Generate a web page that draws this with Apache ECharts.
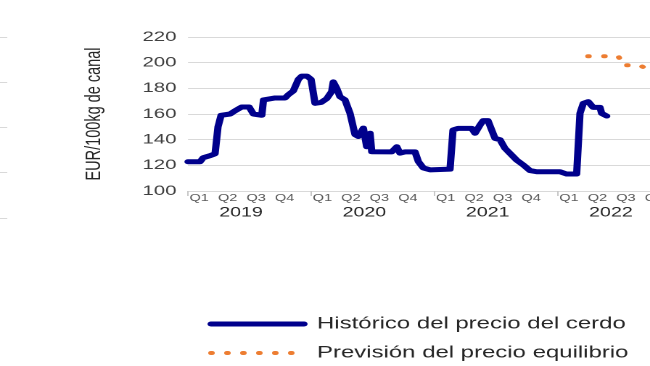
<!DOCTYPE html>
<html><head><meta charset="utf-8">
<script src="https://cdn.jsdelivr.net/npm/echarts@6/dist/echarts.min.js"></script>
<style>
html,body{margin:0;padding:0;background:#fff;overflow:hidden;width:650px;height:366px}
#wrap{position:absolute;left:0;top:0;width:448px;height:366px;transform:scaleX(1.45089);transform-origin:0 0}
#chart{width:448px;height:366px}
</style></head>
<body><div id="wrap"><div id="chart"></div></div>
<script>
// ---- data ----
const years = [2019, 2020, 2021, 2022];
const quarterLabels = ['Q1', 'Q2', 'Q3', 'Q4'];
const yAxisTitle = 'EUR/100kg de canal';
const seriesNames = ['Histórico del precio del cerdo', 'Previsión del precio equilibrio'];

// historical pig price (time in decimal years, value EUR/100kg)
const histT = [2019.000, 2019.097, 2019.124, 2019.178, 2019.219, 2019.243, 2019.268, 2019.341, 2019.381, 2019.436,
  2019.495, 2019.530, 2019.598, 2019.612, 2019.706, 2019.787, 2019.813, 2019.854, 2019.895, 2019.922,
  2019.965, 2019.998, 2020.030, 2020.079, 2020.125, 2020.165, 2020.178, 2020.206, 2020.232, 2020.273,
  2020.314, 2020.354, 2020.381, 2020.422, 2020.436, 2020.449, 2020.476, 2020.490, 2020.652, 2020.693,
  2020.719, 2020.760, 2020.841, 2020.868, 2020.908, 2020.963, 2021.125, 2021.149, 2021.190, 2021.301,
  2021.328, 2021.368, 2021.393, 2021.433, 2021.463, 2021.490, 2021.530, 2021.571, 2021.625, 2021.666,
  2021.719, 2021.774, 2021.828, 2022.017, 2022.071, 2022.152, 2022.179, 2022.206, 2022.246, 2022.285,
  2022.341, 2022.355, 2022.396];
const histV = [122.8, 122.8, 126, 127.5, 129, 150, 159, 160, 162.5, 165.5,
  165.5, 160, 159, 171, 172.5, 172.5, 175, 178, 187, 189.5,
  189.5, 187, 168.3, 169, 172, 177.5, 185, 180, 173.5, 171,
  160.5, 144, 142.5, 149, 150, 134.5, 145, 130.6, 130.5, 134.5,
  129.5, 130.5, 130.5, 123, 118, 116.5, 117, 147.5, 148.8, 148.8,
  145, 151.4, 154.8, 154.8, 147.5, 141, 140, 133.2, 128, 124,
  120.3, 115.9, 115, 115, 113.2, 113.2, 160.5, 168.3, 169.6, 165.2,
  165.2, 160.5, 158.4];

// equilibrium price forecast
const fcT = [2022.245, 2022.49, 2022.53, 2022.665, 2022.72, 2022.85];
const fcV = [205, 205, 198, 198, 195, 193];

// ---- label positions on the time scale ----
const qPos = [];
years.forEach(y => quarterLabels.forEach((q, i) => qPos.push(y + 0.09 + i * 0.231)));
const yearPos = years.map(y => y + 0.43);

const FONT = 'Liberation Sans, Arial, sans-serif';
const gridCfg = { left: 129.6, width: 339.9, top: 37, height: 154, outerBoundsMode: 'none', containLabel: false };

const chart = echarts.init(document.getElementById('chart'), null, { devicePixelRatio: 2 });
chart.setOption({
  animation: false,
  backgroundColor: '#fff',
  grid: [Object.assign({}, gridCfg), Object.assign({}, gridCfg)],
  xAxis: [{
    gridIndex: 0, type: 'value', min: 2019, max: 2023,
    axisLine: { show: false }, splitLine: { show: false },
    axisTick: { show: true, customValues: years, length: 5, lineStyle: { color: '#c8c8c8' } },
    axisLabel: {
      customValues: qPos, margin: 2, fontSize: 10, color: '#595959',
      fontFamily: 'Liberation Sans Narrow, Liberation Sans, sans-serif',
      formatter: v => {
        const f = v - Math.floor(v + 1e-9);
        return quarterLabels[Math.max(0, Math.min(3, Math.round((f - 0.09) / 0.231)))];
      }
    }
  }, {
    gridIndex: 1, type: 'value', min: 2019, max: 2023,
    axisLine: { show: false }, axisTick: { show: false }, splitLine: { show: false },
    axisLabel: {
      customValues: yearPos, margin: 15, fontSize: 13.5, color: '#262626', fontFamily: FONT,
      formatter: v => String(Math.floor(v))
    }
  }],
  yAxis: [{
    gridIndex: 0, type: 'value', min: 100, max: 220, interval: 20,
    axisLine: { show: false }, axisTick: { show: false },
    splitLine: { lineStyle: { color: '#d9d9d9', width: 1 } },
    axisLabel: { fontSize: 14, color: '#404040', margin: 8, fontFamily: FONT },
    name: yAxisTitle, nameLocation: 'middle', nameRotate: 90, nameGap: 57,
    nameTextStyle: { fontSize: 14.5, color: '#262626', fontFamily: FONT }
  }, {
    gridIndex: 1, type: 'value', min: 0, max: 1, show: false
  }],
  legend: {
    orient: 'vertical', left: 143, top: 315, padding: 0,
    itemWidth: 64, itemHeight: 14, itemGap: 11, height: 60,
    selectedMode: false,
    itemStyle: { opacity: 0 },
    lineStyle: { width: 'inherit' },
    textStyle: { fontSize: 16.5, lineHeight: 18, color: '#262626', fontFamily: FONT, padding: [0, 0, 0, 4] },
    data: seriesNames
  },
  series: [{
    name: seriesNames[0], type: 'line', xAxisIndex: 0, yAxisIndex: 0,
    data: histT.map((t, i) => [t, histV[i]]),
    symbol: 'none', showSymbol: false,
    lineStyle: { width: 5, color: '#00008c', cap: 'round', join: 'round' },
    itemStyle: { color: '#00008c' }
  }, {
    name: seriesNames[1], type: 'line', xAxisIndex: 0, yAxisIndex: 0,
    data: fcT.map((t, i) => [t, fcV[i]]),
    symbol: 'none', showSymbol: false,
    lineStyle: { width: 4, color: '#ed7d31', type: [0.5, 10.5], cap: 'round', join: 'round' },
    itemStyle: { color: '#ed7d31' }
  }],
  graphic: [37.5, 82.5, 127.5, 172.5, 218.5].map(y => ({
    type: 'line', silent: true,
    shape: { x1: 0, y1: y, x2: 5, y2: y },
    style: { stroke: '#d9d9d9', lineWidth: 1 }
  }))
});
</script>
</body></html>
